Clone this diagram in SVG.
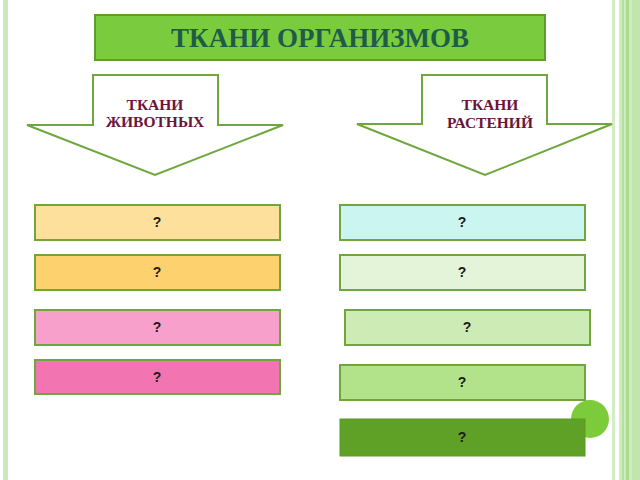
<svg xmlns="http://www.w3.org/2000/svg" width="640" height="480" viewBox="0 0 640 480">
<style>
.box{stroke:#6FA63E;stroke-width:2}
.q{font-family:"Liberation Sans",Arial,sans-serif;font-weight:bold;font-size:14px;fill:#1a1a1a;text-anchor:middle}
.arr{fill:#ffffff;stroke:#6FA63E;stroke-width:2;stroke-linejoin:miter}
.lab{font-family:"Liberation Serif","Times New Roman",serif;font-weight:bold;font-size:15.5px;fill:#6B1538;text-anchor:middle}
</style>
<rect width="640" height="480" fill="#ffffff"/>
<g id="border">
<rect x="3" y="0" width="5" height="480" fill="#C9E9B9"/>
<rect x="612" y="0" width="3" height="480" fill="#D3EDC5"/>
<rect x="619" y="0" width="21" height="480" fill="#CFEBC0"/>
<rect x="622" y="0" width="2" height="480" fill="#B4DF9C"/>
<rect x="626" y="0" width="3" height="480" fill="#A9DA8D"/>
<rect x="632" y="0" width="8" height="480" fill="#C2E5AE"/>
</g>
<g id="title">
<rect x="95" y="15" width="450" height="45" fill="#7ACC3E" stroke="#5E9E30" stroke-width="2"/>
<text x="320" y="47" font-family="Liberation Serif,'Times New Roman',serif" font-weight="bold" font-size="27" fill="#1E5C49" text-anchor="middle">ТКАНИ ОРГАНИЗМОВ</text>
</g>
<g id="arrow-animals">
<polygon class="arr" points="93,75 218,75 218,125 283,125 155,175 27,125 93,125"/>
<text class="lab" x="155" y="110">ТКАНИ</text>
<text class="lab" x="155" y="127">ЖИВОТНЫХ</text>
</g>
<g id="arrow-plants">
<polygon class="arr" points="422,75 547,75 547,124 612,124 485,175 357,124 422,124"/>
<text class="lab" x="490" y="110">ТКАНИ</text>
<text class="lab" x="490" y="128">РАСТЕНИЙ</text>
</g>
<g id="circle"><circle cx="590" cy="419" r="19" fill="#7BCB3A"/></g>
<g id="connectors"/>
<g id="a1"><rect class="box" x="35" y="205" width="245" height="35" fill="#FDE09C"/><text class="q" x="157" y="227">?</text></g>
<g id="a2"><rect class="box" x="35" y="255" width="245" height="35" fill="#FDD26E"/><text class="q" x="157" y="277">?</text></g>
<g id="a3"><rect class="box" x="35" y="310" width="245" height="35" fill="#F6A0CB"/><text class="q" x="157" y="332">?</text></g>
<g id="a4"><rect class="box" x="35" y="360" width="245" height="34" fill="#F274B0"/><text class="q" x="157" y="382">?</text></g>
<g id="p1"><rect class="box" x="340" y="205" width="245" height="35" fill="#CBF5F1"/><text class="q" x="462" y="227">?</text></g>
<g id="p2"><rect class="box" x="340" y="255" width="245" height="35" fill="#E3F4D8"/><text class="q" x="462" y="277">?</text></g>
<g id="p3"><rect class="box" x="345" y="310" width="245" height="35" fill="#CDEBB5"/><text class="q" x="467" y="332">?</text></g>
<g id="p4"><rect class="box" x="340" y="365" width="245" height="35" fill="#B2E38B"/><text class="q" x="462" y="387">?</text></g>
<g id="p5"><rect x="340" y="419" width="245" height="37" fill="#5FA127" stroke="#5A9A26" stroke-width="1"/><text class="q" x="462" y="442">?</text></g>
</svg>
